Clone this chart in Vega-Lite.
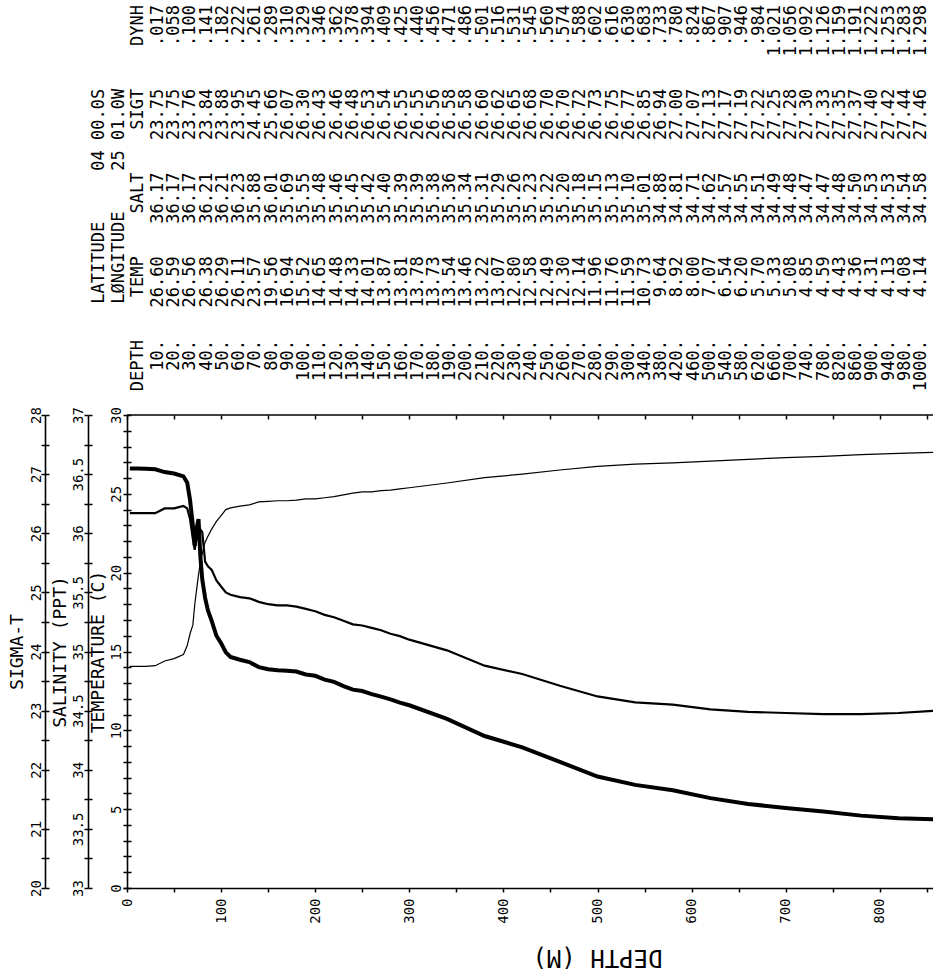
{
  "$schema": "https://vega.github.io/schema/vega-lite/v6.json",
  "width": 806,
  "height": 473,
  "autosize": {"type": "none"},
  "padding": {"left": 127, "top": 415, "right": 0, "bottom": 90},
  "background": "white",
  "config": {
    "view": {"stroke": null},
    "font": "DejaVu Sans Mono",
    "axis": {
      "grid": false,
      "domainColor": "black",
      "tickColor": "black",
      "labelColor": "black",
      "titleColor": "black",
      "domainWidth": 1.6,
      "tickWidth": 1.5,
      "tickSize": 4,
      "labelFont": "DejaVu Sans Mono",
      "titleFont": "DejaVu Sans Mono",
      "labelFontSize": 14,
      "titleFontSize": 18,
      "titleFontWeight": "normal",
      "labelFlush": false,
      "labelOverlap": false
    }
  },
  "datasets": {
    "profile": [
      {"depth": 3, "temp": 26.60, "salt": 36.17, "sigt": 23.75},
      {"depth": 10, "temp": 26.60, "salt": 36.17, "sigt": 23.75},
      {"depth": 20, "temp": 26.59, "salt": 36.17, "sigt": 23.75},
      {"depth": 30, "temp": 26.56, "salt": 36.17, "sigt": 23.76},
      {"depth": 40, "temp": 26.38, "salt": 36.21, "sigt": 23.84},
      {"depth": 50, "temp": 26.29, "salt": 36.21, "sigt": 23.88},
      {"depth": 60, "temp": 26.11, "salt": 36.23, "sigt": 23.95},
      {"depth": 64, "temp": 25.7, "salt": 36.21, "sigt": 24.1},
      {"depth": 67, "temp": 24.6, "salt": 36.12, "sigt": 24.3},
      {"depth": 70, "temp": 23.0, "salt": 35.95, "sigt": 24.45},
      {"depth": 72, "temp": 21.7, "salt": 35.86, "sigt": 24.8},
      {"depth": 74, "temp": 22.8, "salt": 35.98, "sigt": 25.05},
      {"depth": 76, "temp": 23.4, "salt": 36.06, "sigt": 25.3},
      {"depth": 78, "temp": 21.0, "salt": 36.03, "sigt": 25.5},
      {"depth": 80, "temp": 19.56, "salt": 36.01, "sigt": 25.66},
      {"depth": 83, "temp": 18.4, "salt": 35.76, "sigt": 25.85},
      {"depth": 86, "temp": 17.6, "salt": 35.72, "sigt": 25.95},
      {"depth": 90, "temp": 16.94, "salt": 35.69, "sigt": 26.07},
      {"depth": 95, "temp": 16.0, "salt": 35.6, "sigt": 26.2},
      {"depth": 100, "temp": 15.52, "salt": 35.55, "sigt": 26.30},
      {"depth": 105, "temp": 14.95, "salt": 35.5, "sigt": 26.4},
      {"depth": 110, "temp": 14.65, "salt": 35.48, "sigt": 26.43},
      {"depth": 120, "temp": 14.48, "salt": 35.46, "sigt": 26.46},
      {"depth": 130, "temp": 14.33, "salt": 35.45, "sigt": 26.48},
      {"depth": 140, "temp": 14.01, "salt": 35.42, "sigt": 26.53},
      {"depth": 150, "temp": 13.87, "salt": 35.40, "sigt": 26.54},
      {"depth": 160, "temp": 13.81, "salt": 35.39, "sigt": 26.55},
      {"depth": 170, "temp": 13.78, "salt": 35.39, "sigt": 26.55},
      {"depth": 180, "temp": 13.73, "salt": 35.38, "sigt": 26.56},
      {"depth": 190, "temp": 13.54, "salt": 35.36, "sigt": 26.58},
      {"depth": 200, "temp": 13.46, "salt": 35.34, "sigt": 26.58},
      {"depth": 210, "temp": 13.22, "salt": 35.31, "sigt": 26.60},
      {"depth": 220, "temp": 13.07, "salt": 35.29, "sigt": 26.62},
      {"depth": 230, "temp": 12.80, "salt": 35.26, "sigt": 26.65},
      {"depth": 240, "temp": 12.58, "salt": 35.23, "sigt": 26.68},
      {"depth": 250, "temp": 12.49, "salt": 35.22, "sigt": 26.70},
      {"depth": 260, "temp": 12.30, "salt": 35.20, "sigt": 26.70},
      {"depth": 270, "temp": 12.14, "salt": 35.18, "sigt": 26.72},
      {"depth": 280, "temp": 11.96, "salt": 35.15, "sigt": 26.73},
      {"depth": 290, "temp": 11.76, "salt": 35.13, "sigt": 26.75},
      {"depth": 300, "temp": 11.59, "salt": 35.10, "sigt": 26.77},
      {"depth": 340, "temp": 10.73, "salt": 35.01, "sigt": 26.85},
      {"depth": 380, "temp": 9.64, "salt": 34.88, "sigt": 26.94},
      {"depth": 420, "temp": 8.92, "salt": 34.81, "sigt": 27.00},
      {"depth": 460, "temp": 8.00, "salt": 34.71, "sigt": 27.07},
      {"depth": 500, "temp": 7.07, "salt": 34.62, "sigt": 27.13},
      {"depth": 540, "temp": 6.54, "salt": 34.57, "sigt": 27.17},
      {"depth": 580, "temp": 6.20, "salt": 34.55, "sigt": 27.19},
      {"depth": 620, "temp": 5.70, "salt": 34.51, "sigt": 27.22},
      {"depth": 660, "temp": 5.33, "salt": 34.49, "sigt": 27.25},
      {"depth": 700, "temp": 5.08, "salt": 34.48, "sigt": 27.28},
      {"depth": 740, "temp": 4.85, "salt": 34.47, "sigt": 27.30},
      {"depth": 780, "temp": 4.59, "salt": 34.47, "sigt": 27.33},
      {"depth": 820, "temp": 4.43, "salt": 34.48, "sigt": 27.35},
      {"depth": 860, "temp": 4.36, "salt": 34.50, "sigt": 27.37},
      {"depth": 900, "temp": 4.31, "salt": 34.53, "sigt": 27.40}
    ],
    "meta": [
      {"line": "LAT", "SIGT": "LATITUDE\u00a0\u00a0\u00a0\u00a0\u00a004\u00a000.0S"},
      {"line": "LON", "SIGT": "LØNGITUDE\u00a0\u00a0\u00a0\u00a025\u00a001.0W"},
      {"line": "HEAD", "DEPTH": "DEPTH", "TEMP": "TEMP", "SALT": "SALT", "SIGT": "SIGT", "DYNH": "DYNH"}
    ],
    "table": [
      {"line": "10", "DEPTH": "10.", "TEMP": "26.60", "SALT": "36.17", "SIGT": "23.75", "DYNH": ".017"},
      {"line": "20", "DEPTH": "20.", "TEMP": "26.59", "SALT": "36.17", "SIGT": "23.75", "DYNH": ".058"},
      {"line": "30", "DEPTH": "30.", "TEMP": "26.56", "SALT": "36.17", "SIGT": "23.76", "DYNH": ".100"},
      {"line": "40", "DEPTH": "40.", "TEMP": "26.38", "SALT": "36.21", "SIGT": "23.84", "DYNH": ".141"},
      {"line": "50", "DEPTH": "50.", "TEMP": "26.29", "SALT": "36.21", "SIGT": "23.88", "DYNH": ".182"},
      {"line": "60", "DEPTH": "60.", "TEMP": "26.11", "SALT": "36.23", "SIGT": "23.95", "DYNH": ".222"},
      {"line": "70", "DEPTH": "70.", "TEMP": "23.57", "SALT": "35.88", "SIGT": "24.45", "DYNH": ".261"},
      {"line": "80", "DEPTH": "80.", "TEMP": "19.56", "SALT": "36.01", "SIGT": "25.66", "DYNH": ".289"},
      {"line": "90", "DEPTH": "90.", "TEMP": "16.94", "SALT": "35.69", "SIGT": "26.07", "DYNH": ".310"},
      {"line": "100", "DEPTH": "100.", "TEMP": "15.52", "SALT": "35.55", "SIGT": "26.30", "DYNH": ".329"},
      {"line": "110", "DEPTH": "110.", "TEMP": "14.65", "SALT": "35.48", "SIGT": "26.43", "DYNH": ".346"},
      {"line": "120", "DEPTH": "120.", "TEMP": "14.48", "SALT": "35.46", "SIGT": "26.46", "DYNH": ".362"},
      {"line": "130", "DEPTH": "130.", "TEMP": "14.33", "SALT": "35.45", "SIGT": "26.48", "DYNH": ".378"},
      {"line": "140", "DEPTH": "140.", "TEMP": "14.01", "SALT": "35.42", "SIGT": "26.53", "DYNH": ".394"},
      {"line": "150", "DEPTH": "150.", "TEMP": "13.87", "SALT": "35.40", "SIGT": "26.54", "DYNH": ".409"},
      {"line": "160", "DEPTH": "160.", "TEMP": "13.81", "SALT": "35.39", "SIGT": "26.55", "DYNH": ".425"},
      {"line": "170", "DEPTH": "170.", "TEMP": "13.78", "SALT": "35.39", "SIGT": "26.55", "DYNH": ".440"},
      {"line": "180", "DEPTH": "180.", "TEMP": "13.73", "SALT": "35.38", "SIGT": "26.56", "DYNH": ".456"},
      {"line": "190", "DEPTH": "190.", "TEMP": "13.54", "SALT": "35.36", "SIGT": "26.58", "DYNH": ".471"},
      {"line": "200", "DEPTH": "200.", "TEMP": "13.46", "SALT": "35.34", "SIGT": "26.58", "DYNH": ".486"},
      {"line": "210", "DEPTH": "210.", "TEMP": "13.22", "SALT": "35.31", "SIGT": "26.60", "DYNH": ".501"},
      {"line": "220", "DEPTH": "220.", "TEMP": "13.07", "SALT": "35.29", "SIGT": "26.62", "DYNH": ".516"},
      {"line": "230", "DEPTH": "230.", "TEMP": "12.80", "SALT": "35.26", "SIGT": "26.65", "DYNH": ".531"},
      {"line": "240", "DEPTH": "240.", "TEMP": "12.58", "SALT": "35.23", "SIGT": "26.68", "DYNH": ".545"},
      {"line": "250", "DEPTH": "250.", "TEMP": "12.49", "SALT": "35.22", "SIGT": "26.70", "DYNH": ".560"},
      {"line": "260", "DEPTH": "260.", "TEMP": "12.30", "SALT": "35.20", "SIGT": "26.70", "DYNH": ".574"},
      {"line": "270", "DEPTH": "270.", "TEMP": "12.14", "SALT": "35.18", "SIGT": "26.72", "DYNH": ".588"},
      {"line": "280", "DEPTH": "280.", "TEMP": "11.96", "SALT": "35.15", "SIGT": "26.73", "DYNH": ".602"},
      {"line": "290", "DEPTH": "290.", "TEMP": "11.76", "SALT": "35.13", "SIGT": "26.75", "DYNH": ".616"},
      {"line": "300", "DEPTH": "300.", "TEMP": "11.59", "SALT": "35.10", "SIGT": "26.77", "DYNH": ".630"},
      {"line": "340", "DEPTH": "340.", "TEMP": "10.73", "SALT": "35.01", "SIGT": "26.85", "DYNH": ".683"},
      {"line": "380", "DEPTH": "380.", "TEMP": "9.64", "SALT": "34.88", "SIGT": "26.94", "DYNH": ".733"},
      {"line": "420", "DEPTH": "420.", "TEMP": "8.92", "SALT": "34.81", "SIGT": "27.00", "DYNH": ".780"},
      {"line": "460", "DEPTH": "460.", "TEMP": "8.00", "SALT": "34.71", "SIGT": "27.07", "DYNH": ".824"},
      {"line": "500", "DEPTH": "500.", "TEMP": "7.07", "SALT": "34.62", "SIGT": "27.13", "DYNH": ".867"},
      {"line": "540", "DEPTH": "540.", "TEMP": "6.54", "SALT": "34.57", "SIGT": "27.17", "DYNH": ".907"},
      {"line": "580", "DEPTH": "580.", "TEMP": "6.20", "SALT": "34.55", "SIGT": "27.19", "DYNH": ".946"},
      {"line": "620", "DEPTH": "620.", "TEMP": "5.70", "SALT": "34.51", "SIGT": "27.22", "DYNH": ".984"},
      {"line": "660", "DEPTH": "660.", "TEMP": "5.33", "SALT": "34.49", "SIGT": "27.25", "DYNH": "1.021"},
      {"line": "700", "DEPTH": "700.", "TEMP": "5.08", "SALT": "34.48", "SIGT": "27.28", "DYNH": "1.056"},
      {"line": "740", "DEPTH": "740.", "TEMP": "4.85", "SALT": "34.47", "SIGT": "27.30", "DYNH": "1.092"},
      {"line": "780", "DEPTH": "780.", "TEMP": "4.59", "SALT": "34.47", "SIGT": "27.33", "DYNH": "1.126"},
      {"line": "820", "DEPTH": "820.", "TEMP": "4.43", "SALT": "34.48", "SIGT": "27.35", "DYNH": "1.159"},
      {"line": "860", "DEPTH": "860.", "TEMP": "4.36", "SALT": "34.50", "SIGT": "27.37", "DYNH": "1.191"},
      {"line": "900", "DEPTH": "900.", "TEMP": "4.31", "SALT": "34.53", "SIGT": "27.40", "DYNH": "1.222"},
      {"line": "940", "DEPTH": "940.", "TEMP": "4.13", "SALT": "34.53", "SIGT": "27.42", "DYNH": "1.253"},
      {"line": "980", "DEPTH": "980.", "TEMP": "4.08", "SALT": "34.54", "SIGT": "27.44", "DYNH": "1.283"},
      {"line": "1000", "DEPTH": "1000.", "TEMP": "4.14", "SALT": "34.58", "SIGT": "27.46", "DYNH": "1.298"}
    ]
  },
  "layer": [
    {
      "data": {"name": "profile"},
      "encoding": {
        "x": {
          "field": "depth",
          "type": "quantitative",
          "scale": {"domain": [0, 856.5], "nice": false, "zero": false},
          "axis": {
            "values": [0, 50, 100, 150, 200, 250, 300, 350, 400, 450, 500, 550, 600, 650, 700, 750, 800, 850],
            "labelExpr": "datum.value % 100 === 0 ? format(datum.value, 'd') : ''",
            "labelOverlap": false,
            "labelAngle": 270,
            "labelAlign": "right",
            "labelBaseline": "middle",
            "labelPadding": 6,
            "title": "DEPTH (M)",
            "titleAngle": 180,
            "titleAlign": "center",
            "titleBaseline": "middle",
            "titleFontSize": 24,
            "titleX": 470,
            "titleY": 68
          }
        }
      },
      "layer": [
        {
          "mark": {"type": "line", "color": "black", "strokeWidth": 4, "clip": true},
          "encoding": {
            "y": {
              "field": "temp",
              "type": "quantitative",
              "scale": {"domain": [0, 30], "nice": false, "zero": false},
              "axis": {
                "orient": "left",
                "offset": 0,
                "values": [0, 5, 10, 15, 20, 25, 30],
                "labelOverlap": false,
                "labelAngle": 270,
                "labelAlign": "center",
                "labelBaseline": "alphabetic",
                "labelPadding": 3,
                "title": "TEMPERATURE (C)",
                "titlePadding": 2
              }
            }
          }
        },
        {
          "mark": {"type": "line", "color": "black", "strokeWidth": 2.2, "clip": true},
          "encoding": {
            "y": {
              "field": "salt",
              "type": "quantitative",
              "scale": {"domain": [33, 37], "nice": false, "zero": false},
              "axis": {
                "orient": "left",
                "offset": 39,
                "values": [33, 33.25, 33.5, 33.75, 34, 34.25, 34.5, 34.75, 35, 35.25, 35.5, 35.75, 36, 36.25, 36.5, 36.75, 37],
                "labelExpr": "(datum.value * 2) % 1 === 0 ? format(datum.value, '~g') : ''",
                "labelOverlap": false,
                "labelAngle": 270,
                "labelAlign": "center",
                "labelBaseline": "alphabetic",
                "labelPadding": 2,
                "title": "SALINITY (PPT)",
                "titlePadding": 2
              }
            }
          }
        },
        {
          "mark": {"type": "line", "color": "black", "strokeWidth": 1.2, "clip": true},
          "encoding": {
            "y": {
              "field": "sigt",
              "type": "quantitative",
              "scale": {"domain": [20, 28], "nice": false, "zero": false},
              "axis": {
                "orient": "left",
                "offset": 82,
                "values": [20, 20.5, 21, 21.5, 22, 22.5, 23, 23.5, 24, 24.5, 25, 25.5, 26, 26.5, 27, 27.5, 28],
                "labelExpr": "datum.value % 1 === 0 ? format(datum.value, 'd') : ''",
                "labelOverlap": false,
                "labelAngle": 270,
                "labelAlign": "center",
                "labelBaseline": "alphabetic",
                "labelPadding": 1,
                "title": "SIGMA-T",
                "titlePadding": 3
              }
            }
          }
        }
      ],
      "resolve": {"scale": {"y": "independent"}, "axis": {"y": "independent"}}
    },
    {
      "data": {"name": "profile"},
      "encoding": {
        "x": {
          "field": "depth",
          "type": "quantitative",
          "scale": {"domain": [0, 856.5], "nice": false, "zero": false},
          "axis": {
            "values": [0, 50, 100, 150, 200, 250, 300, 350, 400, 450, 500, 550, 600, 650, 700, 750, 800, 850],
            "labels": false, "domain": false, "tickSize": -4, "title": null
          }
        }
      },
      "layer": [
        {
          "mark": {"type": "line", "opacity": 0},
          "encoding": {"y": {"field": "temp", "type": "quantitative", "scale": {"domain": [0, 30], "nice": false, "zero": false},
            "axis": {"orient": "left", "offset": 0, "values": [0,1,2,3,4,5,6,7,8,9,10,11,12,13,14,15,16,17,18,19,20,21,22,23,24,25,26,27,28,29,30], "labels": false, "domain": false, "tickSize": -4, "title": null}}}
        },
        {
          "mark": {"type": "line", "opacity": 0},
          "encoding": {"y": {"field": "temp", "type": "quantitative", "scale": {"domain": [0, 30], "nice": false, "zero": false},
            "axis": {"orient": "left", "offset": 0, "values": [0,1,2,3,4,6,7,8,9,11,12,13,14,16,17,18,19,21,22,23,24,26,27,28,29], "labels": false, "domain": false, "tickSize": 4, "title": null}}}
        },
        {
          "mark": {"type": "line", "opacity": 0},
          "encoding": {"y": {"field": "salt", "type": "quantitative", "scale": {"domain": [33, 37], "nice": false, "zero": false},
            "axis": {"orient": "left", "offset": 39, "values": [33, 33.25, 33.5, 33.75, 34, 34.25, 34.5, 34.75, 35, 35.25, 35.5, 35.75, 36, 36.25, 36.5, 36.75, 37], "labels": false, "domain": false, "tickSize": -4, "title": null}}}
        },
        {
          "mark": {"type": "line", "opacity": 0},
          "encoding": {"y": {"field": "sigt", "type": "quantitative", "scale": {"domain": [20, 28], "nice": false, "zero": false},
            "axis": {"orient": "left", "offset": 82, "values": [20, 20.5, 21, 21.5, 22, 22.5, 23, 23.5, 24, 24.5, 25, 25.5, 26, 26.5, 27, 27.5, 28], "labels": false, "domain": false, "tickSize": -4, "title": null}}}
        }
      ],
      "resolve": {"scale": {"y": "independent"}, "axis": {"y": "independent"}}
    },
    {
      "data": {"values": [{"frame": 30}]},
      "mark": {"type": "rule", "color": "black", "strokeWidth": 1.6},
      "encoding": {
        "y": {"field": "frame", "type": "quantitative", "scale": {"domain": [0, 30], "nice": false, "zero": false}, "axis": null}
      }
    },
    {
      "data": {"name": "meta"},
      "transform": [
        {"fold": ["DEPTH", "TEMP", "SALT", "SIGT", "DYNH"], "as": ["col", "txt"]},
        {"filter": "isValid(datum.txt)"}
      ],
      "mark": {"type": "text", "angle": 270, "align": "right", "baseline": "middle", "font": "DejaVu Sans Mono", "fontSize": 17, "color": "black"},
      "encoding": {
        "x": {"field": "line", "type": "nominal", "sort": null, "scale": {"type": "point", "padding": 0, "range": [-28, 11]}, "axis": null},
        "y": {"field": "col", "type": "nominal", "scale": {"type": "point", "padding": 0, "domain": ["DYNH", "SIGT", "SALT", "TEMP", "DEPTH"], "range": [-410, -75]}, "axis": null},
        "text": {"field": "txt"}
      }
    },
    {
      "data": {"name": "table"},
      "transform": [
        {"fold": ["DEPTH", "TEMP", "SALT", "SIGT", "DYNH"], "as": ["col", "txt"]}
      ],
      "mark": {"type": "text", "angle": 270, "align": "right", "baseline": "middle", "font": "DejaVu Sans Mono", "fontSize": 17, "color": "black"},
      "encoding": {
        "x": {"field": "line", "type": "nominal", "sort": null, "scale": {"type": "point", "padding": 0, "range": [31, 794]}, "axis": null},
        "y": {"field": "col", "type": "nominal", "scale": {"type": "point", "padding": 0, "domain": ["DYNH", "SIGT", "SALT", "TEMP", "DEPTH"], "range": [-410, -75]}, "axis": null},
        "text": {"field": "txt"}
      }
    }
  ],
  "resolve": {"scale": {"x": "independent", "y": "independent"}, "axis": {"x": "independent", "y": "independent"}}
}
